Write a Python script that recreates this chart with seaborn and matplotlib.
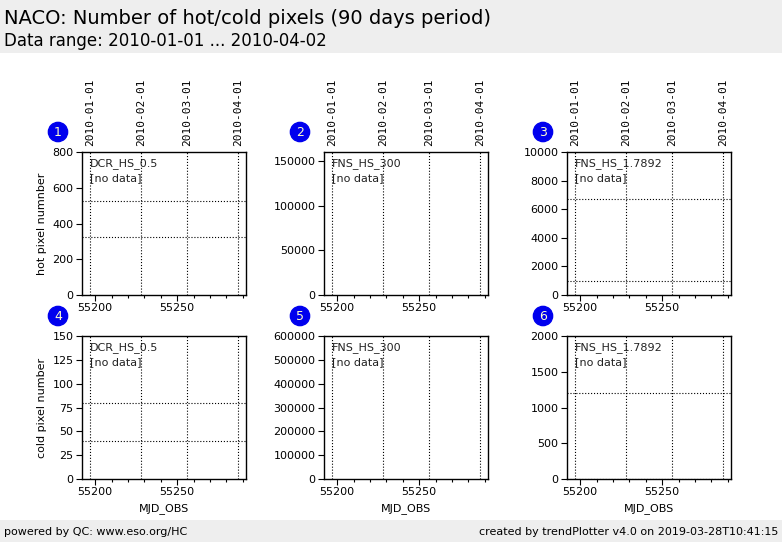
import numpy as np
import pandas as pd
import seaborn as sns
import matplotlib
matplotlib.use("Agg")
import matplotlib.pyplot as plt
from matplotlib.patches import Rectangle

# chart data
panel_labels = ["DCR_HS_0.5", "FNS_HS_300", "FNS_HS_1.7892",
                "DCR_HS_0.5", "FNS_HS_300", "FNS_HS_1.7892"]
y_max = [800, 160000, 10000, 150, 600000, 2000]
y_step = [200, 50000, 2000, 25, 100000, 500]
thresholds = [[325, 525], [], [1000, 6700], [40, 80], [], [0, 1200]]
month_mjd = [55197, 55228, 55256, 55287]
month_labels = ["2010-01-01", "2010-02-01", "2010-03-01", "2010-04-01"]
x_range = [55192, 55292]
row_ylabels = ["hot pixel numnber", "cold pixel number"]

sns.set_theme(style="ticks", rc={
    "axes.edgecolor": "black", "xtick.color": "black", "ytick.color": "black",
    "text.color": "black", "axes.labelcolor": "black",
    "xtick.labelsize": 8, "ytick.labelsize": 8, "axes.labelsize": 8,
    "axes.linewidth": 1.0,
})
plt.rcParams["font.family"] = ["DejaVu Sans"]

W, H = 782, 542
fig = plt.figure(figsize=(W / 100, H / 100), dpi=100)

# header and footer bands
fig.patches.append(Rectangle((0, 1 - 53 / H), 1, 53 / H, transform=fig.transFigure,
                             facecolor="#eeeeee", edgecolor="none", zorder=0))
fig.patches.append(Rectangle((0, 0), 1, 22 / H, transform=fig.transFigure,
                             facecolor="#eeeeee", edgecolor="none", zorder=0))
fig.text(4 / W, 1 - 18 / H, "NACO: Number of hot/cold pixels (90 days period)",
         fontsize=14, va="center", ha="left")
fig.text(4 / W, 1 - 41 / H, "Data range: 2010-01-01 ... 2010-04-02",
         fontsize=12, va="center", ha="left")
fig.text(4 / W, 1 - 532 / H, "powered by QC: www.eso.org/HC",
         fontsize=8, va="center", ha="left")
fig.text(1 - 4 / W, 1 - 532 / H, "created by trendPlotter v4.0 on 2019-03-28T10:41:15",
         fontsize=8, va="center", ha="right")

col_left = [82, 324, 567]
row_top = [152, 336]
ax_w, ax_h = 164, 143

for i in range(6):
    r, c = divmod(i, 3)
    left, top = col_left[c], row_top[r]
    ax = fig.add_axes([left / W, 1 - (top + ax_h) / H, ax_w / W, ax_h / H])

    # no data points: empty series drawn through seaborn
    empty = pd.DataFrame({"MJD_OBS": pd.Series([], dtype=float),
                          "value": pd.Series([], dtype=float)})
    sns.lineplot(data=empty, x="MJD_OBS", y="value", ax=ax)

    ax.set_xlim(x_range)
    ax.set_ylim(0, y_max[i])
    ax.set_yticks(np.arange(0, y_max[i] + 1, y_step[i]))
    ax.set_xticks([55200, 55250])
    ax.set_xticks(np.arange(55200, 55291, 10), minor=True)
    ax.tick_params(axis="both", which="major", length=4, width=0.8, pad=2)
    ax.tick_params(axis="x", which="minor", length=2, width=0.8)

    for m in month_mjd:
        ax.axvline(m, color="black", linestyle=":", linewidth=0.8)
    for t in thresholds[i]:
        ax.axhline(t, color="black", linestyle=":", linewidth=0.8)

    ax.text(0.05, 0.96, panel_labels[i] + "\n[no data]", transform=ax.transAxes,
            fontsize=8, va="top", ha="left", linespacing=1.5, color="#222222")

    ax.set_xlabel("MJD_OBS" if r == 1 else "")
    ax.set_ylabel(row_ylabels[r] if c == 0 else "")

    if r == 0:
        top_ax = ax.secondary_xaxis("top")
        top_ax.set_xticks(month_mjd)
        top_ax.set_xticklabels(month_labels, rotation=90, fontsize=8,
                               family="DejaVu Sans Mono")
        top_ax.tick_params(axis="x", length=0, pad=4)
        top_ax.spines["top"].set_visible(False)

    # numbered marker
    fig.text((left - 24) / W, 1 - (top - 20) / H, str(i + 1), fontsize=9,
             color="#ffffcc", ha="center", va="center",
             bbox=dict(boxstyle="circle,pad=0.25", facecolor="#0000ee", edgecolor="#0000ee"))

fig.savefig("out.png", dpi=100)
